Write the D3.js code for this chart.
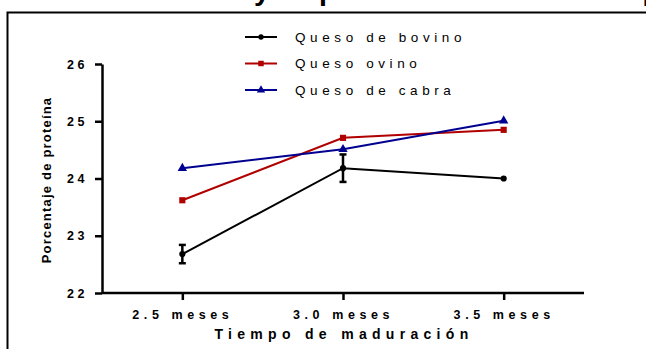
<!DOCTYPE html>
<html>
<head>
<meta charset="utf-8">
<script src="https://cdn.jsdelivr.net/npm/d3@7"></script>
<style>
  html, body { margin: 0; padding: 0; background: #fff; overflow: hidden; }
  svg { display: block; font-family: Arial, "Liberation Sans", sans-serif; }
</style>
</head>
<body>
<div id="chart"></div>
<script>
// data
const months = ["2.5 meses", "3.0 meses", "3.5 meses"];
const yTicks = [22, 23, 24, 25, 26];
const seriesNames = ["Queso de bovino", "Queso ovino", "Queso de cabra"];
const bovino = [22.68, 24.18, 24.0];
const bovinoErr = [0.16, 0.24, 0];
const ovino = [23.62, 24.71, 24.85];
const cabra = [24.18, 24.51, 25.01];
const colors = ["#000000", "#b00000", "#000090"];
const symbols = [d3.symbolCircle, d3.symbolSquare, d3.symbolTriangle];

const W = 646, H = 349;
const svg = d3.select("#chart").append("svg")
    .attr("width", W)
    .attr("height", H);

// title, cut off by the top edge of the crop (only descenders show)
const title = svg.append("text")
    .attr("y", 0)
    .attr("font-size", 26)
    .attr("font-weight", "bold")
    .attr("fill", "#000")
    .text("Evolución del contenido de sólidos totales y de proteína durante el tiempo de maduración");
{
  const node = title.node();
  const s = node.textContent;
  const iy = s.indexOf("y de");
  const ip = s.indexOf("tiempo") + 3;
  const cx = i => node.getStartPositionOfChar(i).x + node.getExtentOfChar(i).width / 2;
  const d = cx(ip) - cx(iy);
  title.attr("font-size", 26 * 368 / d);
  title.attr("x", 262 - cx(iy));
}

// frame around the figure
svg.append("path")
    .attr("d", "M7.5,349 V12.5 H646")
    .attr("fill", "none")
    .attr("stroke", "#000")
    .attr("stroke-width", 2);

const x = d3.scalePoint().domain(months).range([102, 584]).padding(0.5);
const y = d3.scaleLinear().domain([22, 26]).range([293, 64]);

// axes
const yAxis = svg.append("g")
    .attr("transform", "translate(102,0)")
    .call(d3.axisLeft(y).tickValues(yTicks).tickFormat(d3.format("d"))
      .tickSize(7).tickPadding(7).tickSizeOuter(0));
yAxis.select(".domain").attr("stroke-width", 2.5);
yAxis.selectAll(".tick line").attr("stroke-width", 2.5);
yAxis.selectAll("text")
    .attr("font-size", 12.5)
    .attr("font-weight", "bold")
    .attr("font-family", "Arial, 'Liberation Sans', sans-serif")
    .attr("letter-spacing", "3.5px")
    .attr("fill", "#000");

const xAxis = svg.append("g")
    .attr("transform", "translate(0,293)")
    .call(d3.axisBottom(x).tickSize(7).tickPadding(10).tickSizeOuter(0));
xAxis.select(".domain").attr("stroke-width", 2.5).attr("d", "M102,0H584");
xAxis.selectAll(".tick line").attr("stroke-width", 2.5);
xAxis.selectAll("text")
    .attr("font-size", 12.5)
    .attr("font-weight", "bold")
    .attr("font-family", "Arial, 'Liberation Sans', sans-serif")
    .attr("letter-spacing", "4.6px")
    .attr("fill", "#000");

// axis titles
svg.append("text")
    .attr("transform", "translate(51,180) rotate(-90)")
    .attr("text-anchor", "middle")
    .attr("font-size", 13)
    .attr("font-weight", "bold")
    .attr("letter-spacing", "1.2px")
    .text("Porcentaje de proteína");

svg.append("text")
    .attr("x", 344)
    .attr("y", 339)
    .attr("text-anchor", "middle")
    .attr("font-size", 14)
    .attr("font-weight", "bold")
    .attr("letter-spacing", "5.3px")
    .text("Tiempo de maduración");

// series
const series = [bovino, ovino, cabra];
const line = d3.line().x((d, i) => x(months[i])).y(d => y(d));

series.forEach((vals, k) => {
  const g = svg.append("g");
  g.append("path")
      .datum(vals)
      .attr("d", line)
      .attr("fill", "none")
      .attr("stroke", colors[k])
      .attr("stroke-width", 2);
  g.selectAll("path.pt")
      .data(vals)
      .join("path")
      .attr("class", "pt")
      .attr("transform", (d, i) => `translate(${x(months[i])},${y(d)})`)
      .attr("d", d3.symbol().type(symbols[k]).size(k === 0 ? 30 : 38))
      .attr("fill", colors[k]);
});

// error bars on the bovine series
const eb = svg.append("g").attr("stroke", "#000").attr("stroke-width", 2.5);
bovino.forEach((v, i) => {
  const e = bovinoErr[i];
  if (!e) return;
  const cx = x(months[i]);
  eb.append("line").attr("x1", cx).attr("x2", cx).attr("y1", y(v + e)).attr("y2", y(v - e));
  eb.append("line").attr("x1", cx - 3.5).attr("x2", cx + 3.5).attr("y1", y(v + e)).attr("y2", y(v + e));
  eb.append("line").attr("x1", cx - 3.5).attr("x2", cx + 3.5).attr("y1", y(v - e)).attr("y2", y(v - e));
});

// legend
const legY = d3.scalePoint().domain(seriesNames).range([37, 90]);
const leg = svg.append("g");
seriesNames.forEach((name, k) => {
  const ly = legY(name);
  leg.append("line")
      .attr("x1", 245).attr("x2", 277)
      .attr("y1", ly).attr("y2", ly)
      .attr("stroke", colors[k])
      .attr("stroke-width", 2);
  leg.append("path")
      .attr("transform", `translate(261,${ly})`)
      .attr("d", d3.symbol().type(symbols[k]).size(k === 0 ? 22 : 30))
      .attr("fill", colors[k]);
  leg.append("text")
      .attr("x", 295)
      .attr("y", ly)
      .attr("dy", "0.35em")
      .attr("font-size", 13.5)
      .attr("letter-spacing", "4.6px")
      .text(name);
});
</script>
</body>
</html>
